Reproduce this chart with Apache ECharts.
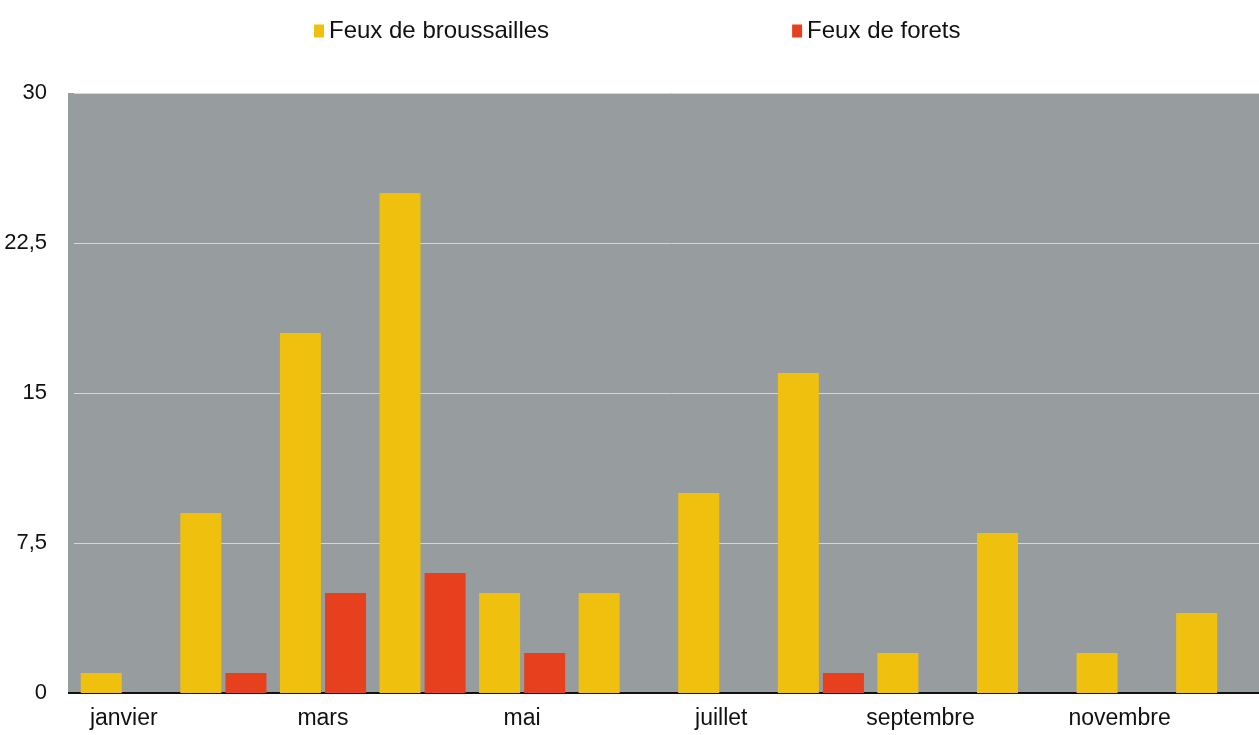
<!DOCTYPE html>
<html>
<head>
<meta charset="utf-8">
<script src="https://cdn.jsdelivr.net/npm/echarts@6/dist/echarts.min.js"></script>
<style>
html,body{margin:0;padding:0;background:#fff;overflow:hidden;width:1259px;height:735px;}
#c{width:1275px;height:735px;}
</style>
</head>
<body>
<div id="c"></div>
<script>
const months = ['janvier','février','mars','avril','mai','juin','juillet','août','septembre','octobre','novembre','décembre'];
const seriesNames = ['Feux de broussailles','Feux de forets'];
const broussailles = [1, 9, 18, 25, 5, 5, 10, 16, 2, 8, 2, 4];
const forets = [null, 1, 5, 6, 2, null, null, 1, null, null, null, null];
const yTicks = [0, 7.5, 15, 22.5, 30];

const chart = echarts.init(document.getElementById('c'));
chart.setOption({
  animation: false,
  backgroundColor: '#ffffff',
  legend: {
    top: 14,
    left: 309,
    itemWidth: 10,
    itemHeight: 13,
    itemGap: 243,
    icon: 'rect',
    textStyle: {fontFamily: 'Liberation Sans, Arial, sans-serif', fontSize: 24, color: '#111'},
    data: seriesNames
  },
  graphic: [{
    type: 'rect', z: -1, silent: true,
    shape: {x: 68, y: 93, width: 8, height: 600},
    style: {fill: '#979c9e'}
  }, {
    type: 'line', z: 10, silent: true,
    shape: {x1: 68, y1: 693, x2: 76, y2: 693},
    style: {stroke: '#111', lineWidth: 2}
  }],
  grid: {
    left: 74, top: 93, width: 1195, bottom: 42,
    show: true, backgroundColor: '#979c9e', borderWidth: 0
  },
  xAxis: {
    type: 'category',
    data: months,
    axisLine: {show: true, lineStyle: {color: '#111', width: 2}},
    axisTick: {show: false},
    axisLabel: {interval: 1, fontFamily: 'Liberation Sans, Arial, sans-serif', fontSize: 23, color: '#111', margin: 14}
  },
  yAxis: {
    type: 'value',
    min: 0, max: 30, interval: 7.5,
    axisLine: {show: false},
    axisTick: {show: false},
    splitLine: {lineStyle: {color: '#d4d7d8', width: 1}},
    axisLabel: {
      fontFamily: 'Liberation Sans, Arial, sans-serif', fontSize: 22, color: '#111', margin: 27,
      formatter: v => yTicks.includes(v) ? String(v).replace('.', ',') : ''
    }
  },
  series: [
    {name: seriesNames[0], type: 'bar', data: broussailles, barWidth: 41, barGap: '10%', itemStyle: {color: '#f0c00e'}},
    {name: seriesNames[1], type: 'bar', data: forets, barWidth: 41, itemStyle: {color: '#e6401f'}}
  ]
});
</script>
</body>
</html>
